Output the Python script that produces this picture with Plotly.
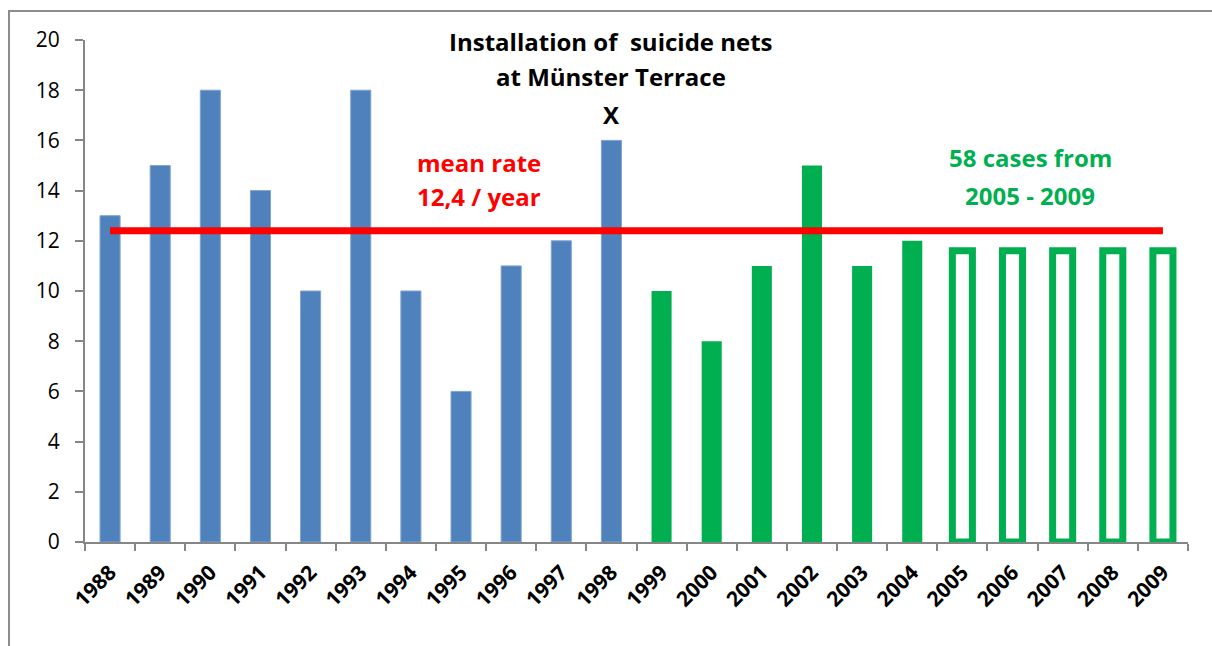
import plotly.graph_objects as go

# Yearly cases
years_before = ["1988", "1989", "1990", "1991", "1992", "1993", "1994", "1995", "1996", "1997", "1998"]
cases_before = [13, 15, 18, 14, 10, 18, 10, 6, 11, 12, 16]

years_after = ["1999", "2000", "2001", "2002", "2003", "2004"]
cases_after = [10, 8, 11, 15, 11, 12]

years_recent = ["2005", "2006", "2007", "2008", "2009"]
cases_recent = [11.6, 11.6, 11.6, 11.6, 11.6]   # 58 cases spread over 5 years

all_years = years_before + years_after + years_recent
mean_rate = 12.4

BLUE = "#4F81BD"
GREEN = "#00B050"
RED = "#FF0000"
GREY = "#868686"
FONT = "Open Sans"

fig = go.Figure()

fig.add_trace(go.Bar(x=years_before, y=cases_before, width=0.4,
                     marker=dict(color=BLUE, line=dict(width=1, color="#7FA3D3"))))
fig.add_trace(go.Bar(x=years_after, y=cases_after, width=0.4,
                     marker=dict(color=GREEN, line=dict(width=0))))
fig.add_trace(go.Bar(x=years_recent, y=cases_recent, width=0.4,
                     marker=dict(color="white", line=dict(width=7, color=GREEN))))

fig.add_trace(go.Scatter(x=[all_years[0], all_years[-1]], y=[mean_rate, mean_rate],
                         mode="lines", line=dict(color=RED, width=7)))

def label(text, x, y, color, size=24):
    fig.add_annotation(text=text, x=x, y=y, xref="x", yref="y", showarrow=False,
                       font=dict(family=FONT, size=size, color=color, weight="bold"))

label("Installation of  suicide nets", 10, 19.95, "black")
label("at Münster Terrace", 10, 18.55, "black")
label("X", 10, 17.05, "black")
label("mean rate", 7.35, 15.1, RED)
label("12,4 / year", 7.35, 13.75, RED)
label("58 cases from", 18.35, 15.3, GREEN)
label("2005 - 2009", 18.35, 13.8, GREEN)

# outer chart frame
fig.add_shape(type="rect", xref="paper", yref="paper",
              x0=-0.0689, x1=1.2, y0=-0.4, y1=1.0578,
              line=dict(color="#8C8C8C", width=2), layer="below")

fig.update_layout(
    width=1212, height=646,
    margin=dict(l=85, r=24, t=40, b=104),
    paper_bgcolor="white", plot_bgcolor="white",
    showlegend=False, barmode="overlay",
    font=dict(family=FONT, color="black"),
)
fig.update_xaxes(type="category", categoryorder="array", categoryarray=all_years,
                 range=[-0.5, 21.5], showgrid=False, showline=True, linecolor=GREY,
                 linewidth=2, ticks="outside", tickson="boundaries", ticklen=7,
                 tickwidth=2, tickcolor=GREY, tickangle=-45, ticklabelstandoff=8,
                 tickfont=dict(family=FONT, size=21, color="black", weight="bold"))
fig.update_yaxes(range=[0, 20], dtick=2, showgrid=False, zeroline=False, showline=True,
                 linecolor=GREY, linewidth=2, ticks="outside", ticklen=8, tickwidth=2,
                 tickcolor=GREY, ticklabelstandoff=11,
                 tickfont=dict(family=FONT, size=21, color="black"))

fig.write_html("out.html")
